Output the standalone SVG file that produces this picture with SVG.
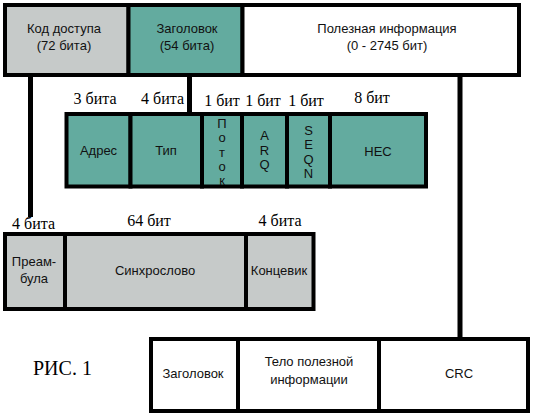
<svg xmlns="http://www.w3.org/2000/svg" width="537" height="420" viewBox="0 0 537 420">
<style>
.box{stroke:#000;stroke-width:4}
.g{fill:#c6cac9}
.t{fill:#63ab9f}
.w{fill:#fff}
.lbl{font-family:"Liberation Sans",Arial,sans-serif;font-size:13px;fill:#111;text-anchor:middle}
.num{font-family:"Liberation Serif","Times New Roman",serif;font-size:16px;fill:#000;text-anchor:middle}
.conn{stroke:#000;stroke-width:5;fill:none}
</style>
<rect width="537" height="420" fill="#fff"/>
<g id="connectors">
<line class="conn" x1="30.5" y1="75" x2="30.5" y2="217"/>
<line class="conn" x1="189.5" y1="75" x2="189.5" y2="114"/>
<line class="conn" x1="460" y1="75" x2="460" y2="339"/>
</g>
<g id="access-code"><rect class="box g" x="5" y="5" width="123.5" height="70"/>
<text class="lbl" x="64" y="33">Код доступа</text><text class="lbl" x="64" y="50">(72 бита)</text></g>
<g id="header"><rect class="box t" x="128.5" y="5" width="114" height="70"/>
<text class="lbl" x="187" y="33">Заголовок</text><text class="lbl" x="187" y="50">(54 бита)</text></g>
<g id="payload"><rect class="box w" x="242.5" y="5" width="276.5" height="70"/>
<text class="lbl" x="387" y="33">Полезная информация</text><text class="lbl" x="387" y="50">(0 - 2745 бит)</text></g>

<g id="addr"><rect class="box t" x="66.5" y="114" width="64" height="72.5"/><text class="lbl" x="98.5" y="155">Адрес</text><text class="num" x="95" y="104">3 бита</text></g>
<g id="type"><rect class="box t" x="130.5" y="114" width="71.5" height="72.5"/><text class="lbl" x="166" y="155">Тип</text><text class="num" x="162.5" y="104">4 бита</text></g>
<g id="flow"><rect class="box t" x="202" y="114" width="40" height="72.5"/>
<text class="lbl" x="222" y="127.5">П</text><text class="lbl" x="222" y="142">о</text><text class="lbl" x="222" y="156.5">т</text><text class="lbl" x="222" y="171">о</text><text class="lbl" x="222" y="185">к</text>
<text class="num" x="222" y="106">1 бит</text></g>
<g id="arq"><rect class="box t" x="242" y="114" width="45" height="72.5"/>
<text class="lbl" x="264.5" y="140">A</text><text class="lbl" x="264.5" y="155">R</text><text class="lbl" x="264.5" y="169">Q</text>
<text class="num" x="263" y="106">1 бит</text></g>
<g id="seqn"><rect class="box t" x="287" y="114" width="43" height="72.5"/>
<text class="lbl" x="308.5" y="134.5">S</text><text class="lbl" x="308.5" y="149">E</text><text class="lbl" x="308.5" y="163.5">Q</text><text class="lbl" x="308.5" y="178">N</text>
<text class="num" x="306" y="106">1 бит</text></g>
<g id="hec"><rect class="box t" x="330" y="114" width="96" height="72.5"/><text class="lbl" x="378" y="156">HEC</text><text class="num" x="372" y="103">8 бит</text></g>

<g id="preamble"><rect class="box g" x="5" y="234" width="60" height="75"/>
<text class="lbl" x="34" y="266">Преам-</text><text class="lbl" x="34" y="283">була</text><text class="num" x="33.5" y="229">4 бита</text></g>
<g id="sync"><rect class="box g" x="65" y="234" width="181" height="75"/><text class="lbl" x="155" y="275">Синхрослово</text><text class="num" x="149" y="226">64 бит</text></g>
<g id="trailer"><rect class="box g" x="246" y="234" width="67.5" height="75"/><text class="lbl" x="279" y="275">Концевик</text><text class="num" x="280" y="226">4 бита</text></g>

<g id="pl-header"><rect class="box w" x="151" y="339" width="87" height="72"/><text class="lbl" x="193" y="378">Заголовок</text></g>
<g id="pl-body"><rect class="box w" x="238" y="339" width="141" height="72"/><text class="lbl" x="309" y="366">Тело полезной</text><text class="lbl" x="309" y="384">информации</text></g>
<g id="crc"><rect class="box w" x="379" y="339" width="149" height="72"/><text class="lbl" x="459" y="378">CRC</text></g>

<text id="fig" x="33" y="375" font-family="Liberation Serif,'Times New Roman',serif" font-size="20" fill="#000">РИС. 1</text>
</svg>
